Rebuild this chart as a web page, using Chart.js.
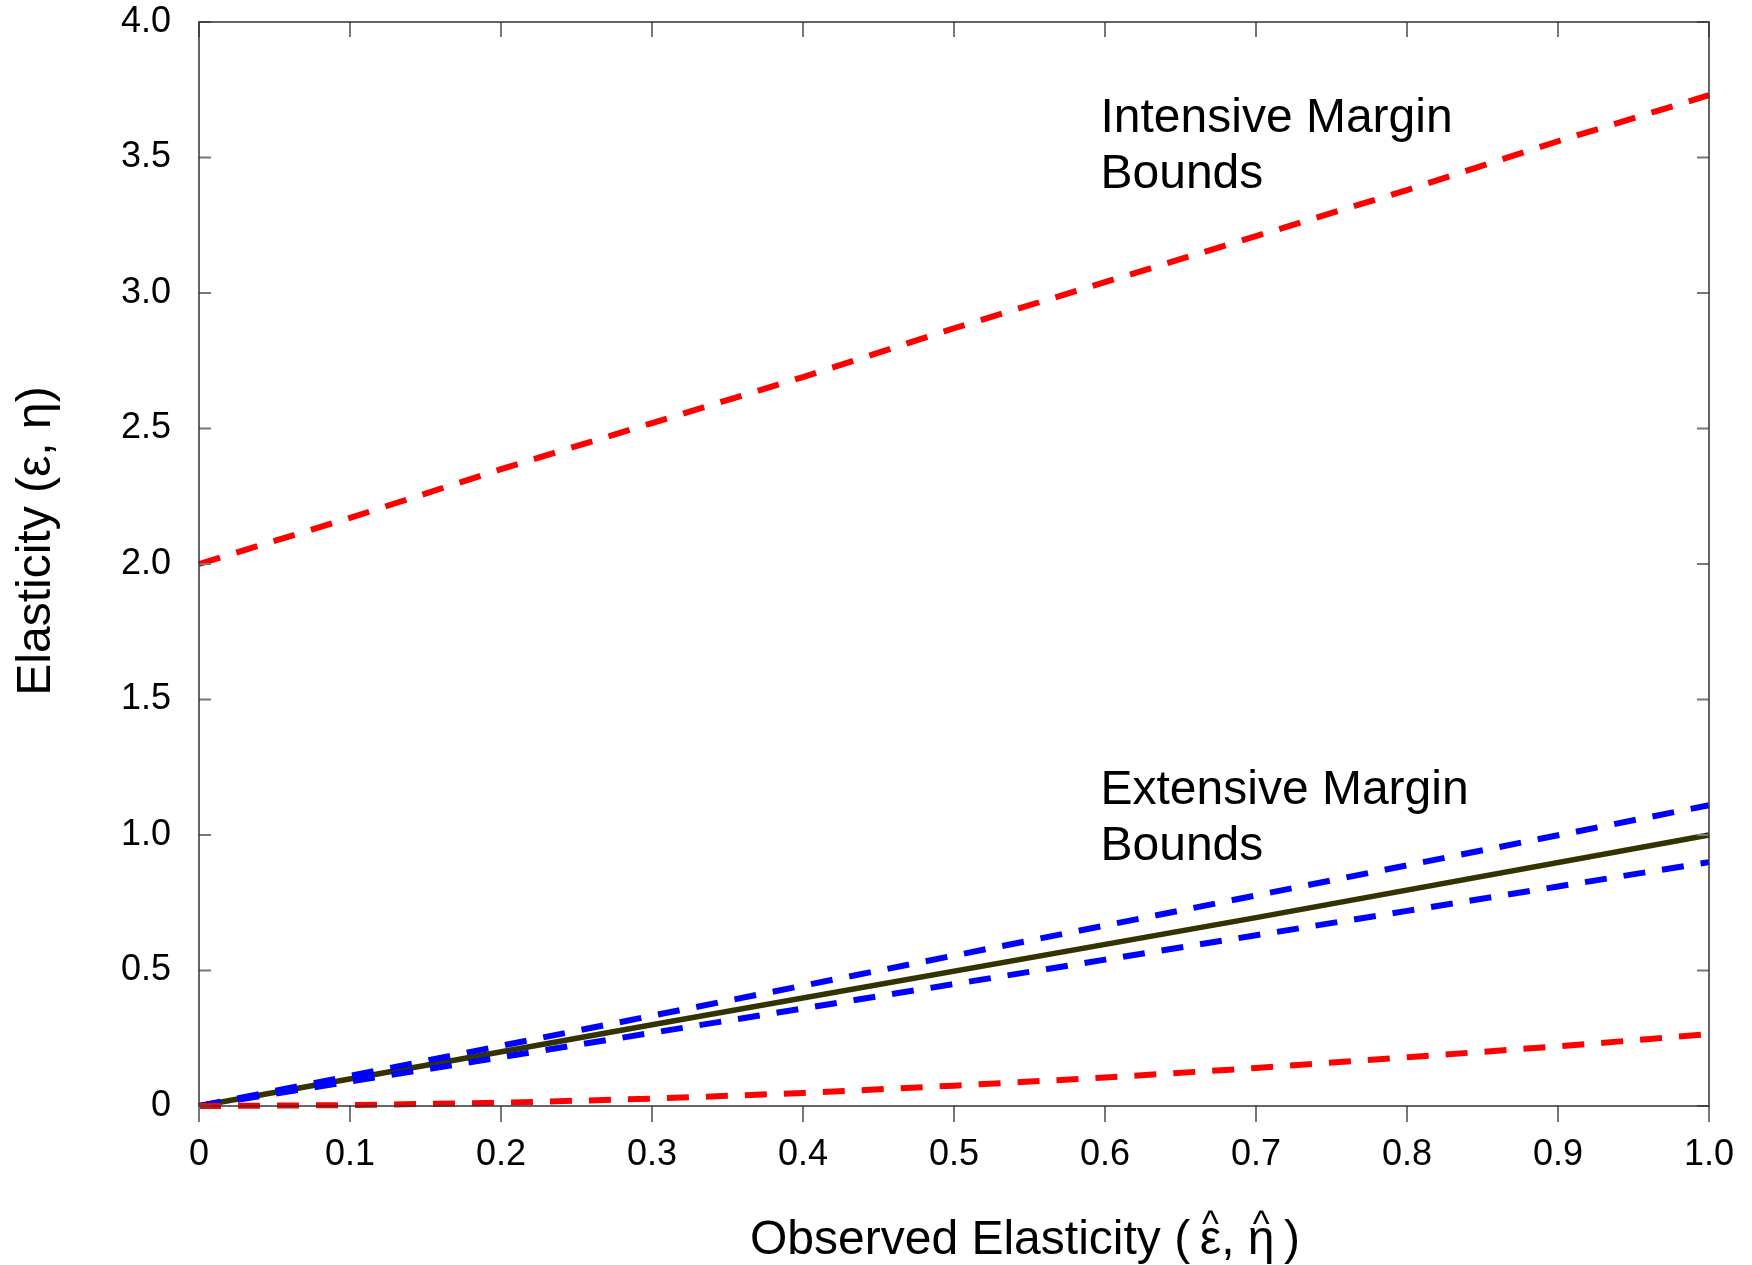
<!DOCTYPE html>
<html>
<head>
<meta charset="utf-8">
<script src="https://cdn.jsdelivr.net/npm/chart.js@4"></script>
<style>
  html, body { margin: 0; padding: 0; background: #fff; }
  #wrap { width: 1752px; height: 1265px; }
</style>
</head>
<body>
<div id="wrap"><canvas id="elasticityChart"></canvas></div>
<script>
'use strict';

// DATA
const observed = [0, 0.1, 0.2, 0.3, 0.4, 0.5, 0.6, 0.7, 0.8, 0.9, 1.0];
const intensiveUpper = [2.0, 2.17, 2.35, 2.52, 2.69, 2.87, 3.04, 3.21, 3.38, 3.56, 3.73];
const intensiveLower = [0, 0.003, 0.012, 0.027, 0.048, 0.075, 0.105, 0.14, 0.18, 0.22, 0.265];
const extensiveUpper = [0, 0.111, 0.222, 0.333, 0.444, 0.555, 0.666, 0.777, 0.888, 0.999, 1.11];
const extensiveLower = [0, 0.09, 0.18, 0.27, 0.36, 0.45, 0.54, 0.63, 0.72, 0.81, 0.9];
const identityX = [0, 0.3, 0.7, 1.0];
const identityY = [0, 0.3, 0.695, 1.0];

const xTicks = [0, 0.1, 0.2, 0.3, 0.4, 0.5, 0.6, 0.7, 0.8, 0.9, 1.0];
const yTicks = [0, 0.5, 1.0, 1.5, 2.0, 2.5, 3.0, 3.5, 4.0];

const notes = [
  { x: 0.597, y: 3.595, lines: ['Intensive Margin', 'Bounds'] },
  { x: 0.597, y: 1.113, lines: ['Extensive Margin', 'Bounds'] },
];

const FONT = "'Liberation Sans', Arial, sans-serif";

const pts = (xs, ys) => xs.map((x, i) => ({ x: x, y: ys[i] }));
const fmt = v => (v === 0 ? '0' : v.toFixed(1));

// box, ticks, notes and the two axis titles (hats drawn over the greek letters)
const framePlugin = {
  id: 'frame',
  afterDatasetsDraw(chart) {
    const { ctx, chartArea: a, scales } = chart;
    ctx.save();
    ctx.strokeStyle = '#777';
    ctx.lineWidth = 2;
    xTicks.forEach(v => {
      const px = scales.x.getPixelForValue(v);
      ctx.beginPath();
      ctx.moveTo(px, a.bottom); ctx.lineTo(px, a.bottom + 16);
      ctx.moveTo(px, a.top); ctx.lineTo(px, a.top + 15);
      ctx.stroke();
    });
    yTicks.forEach(v => {
      const py = scales.y.getPixelForValue(v);
      ctx.beginPath();
      ctx.moveTo(a.left, py); ctx.lineTo(a.left + 12, py);
      ctx.moveTo(a.right, py); ctx.lineTo(a.right - 12, py);
      ctx.stroke();
    });
    ctx.strokeStyle = '#333';
    ctx.lineWidth = 1.5;
    ctx.strokeRect(a.left, a.top, a.right - a.left, a.bottom - a.top);

    ctx.fillStyle = '#000';
    ctx.font = '48px ' + FONT;
    ctx.textAlign = 'left';
    ctx.textBaseline = 'alphabetic';
    notes.forEach(n => {
      const px = scales.x.getPixelForValue(n.x);
      const py = scales.y.getPixelForValue(n.y);
      n.lines.forEach((t, i) => ctx.fillText(t, px, py + i * 56));
    });

    // x title
    const x0 = 750, base = 1254;
    const parts = ['Observed Elasticity (\u2009', '\u03B5', ', ', '\u03B7', '\u2009)'];
    let cx = x0;
    const hatAt = [];
    parts.forEach((p, i) => {
      ctx.font = '48px ' + FONT;
      ctx.fillText(p, cx, base);
      const w = ctx.measureText(p).width;
      if (i === 1 || i === 3) hatAt.push(cx + w / 2);
      cx += w;
    });
    ctx.font = '36px ' + FONT;
    ctx.textAlign = 'center';
    hatAt.forEach(hx => ctx.fillText('^', hx, 1236));

    // y title
    ctx.font = '48px ' + FONT;
    ctx.translate(50, 541);
    ctx.rotate(-Math.PI / 2);
    ctx.textAlign = 'center';
    ctx.fillText('Elasticity (\u03B5, \u03B7)', 0, 0);
    ctx.restore();
  },
};

const dashed = (data, color) => ({
  data: data,
  borderColor: color,
  borderWidth: 6,
  borderDash: [22, 17],
  borderCapStyle: 'butt',
  pointRadius: 0,
  fill: false,
  tension: 0,
  clip: 6,
});

new Chart(document.getElementById('elasticityChart'), {
  type: 'line',
  data: {
    datasets: [
      dashed(pts(observed, intensiveUpper), '#ff0000'),
      dashed(pts(observed, intensiveLower), '#ff0000'),
      dashed(pts(observed, extensiveUpper), '#0000ff'),
      dashed(pts(observed, extensiveLower), '#0000ff'),
      {
        data: pts(identityX, identityY),
        borderColor: '#333300',
        borderWidth: 5.5,
        pointRadius: 0,
        fill: false,
        tension: 0,
        clip: 6,
      },
    ],
  },
  options: {
    responsive: true,
    maintainAspectRatio: false,
    animation: false,
    layout: { padding: { top: 22, right: 43, left: 0, bottom: 0 } },
    plugins: { legend: { display: false }, tooltip: { enabled: false } },
    scales: {
      x: {
        type: 'linear',
        min: 0,
        max: 1,
        afterFit: s => {
          s.height = 159;
          s.paddingLeft = 0;
          s.paddingRight = 0;
        },
        afterBuildTicks: s => { s.ticks = xTicks.map(v => ({ value: v })); },
        grid: { display: false, drawTicks: false },
        border: { display: false },
        ticks: {
          color: '#000',
          font: { family: FONT, size: 36 },
          padding: 27,
          maxRotation: 0,
          callback: fmt,
        },
      },
      y: {
        type: 'linear',
        min: 0,
        max: 4,
        afterFit: s => {
          s.width = 199;
          s.paddingTop = 0;
          s.paddingBottom = 0;
        },
        afterBuildTicks: s => { s.ticks = yTicks.map(v => ({ value: v })); },
        grid: { display: false, drawTicks: false },
        border: { display: false },
        ticks: {
          color: '#000',
          font: { family: FONT, size: 36 },
          padding: 28,
          callback: fmt,
        },
      },
    },
  },
  plugins: [framePlugin],
});
</script>
</body>
</html>
